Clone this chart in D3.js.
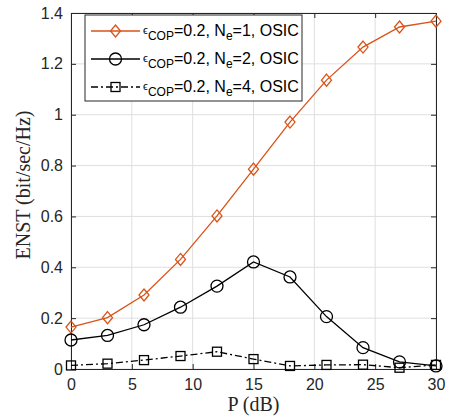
<!DOCTYPE html>
<html>
<head>
<meta charset="utf-8">
<script src="https://cdn.jsdelivr.net/npm/d3@7"></script>
<style>
  body { margin: 0; background: #fff; }
</style>
</head>
<body>
<div class="canvas"></div>
<script>
// values
const powerDb = [0, 3, 6, 9, 12, 15, 18, 21, 24, 27, 30];
const enstNe1 = [0.165, 0.202, 0.291, 0.431, 0.602, 0.786, 0.971, 1.136, 1.266, 1.345, 1.368];
const enstNe2 = [0.114, 0.132, 0.174, 0.243, 0.326, 0.421, 0.362, 0.206, 0.084, 0.028, 0.012];
const enstNe4 = [0.014, 0.021, 0.035, 0.051, 0.068, 0.039, 0.012, 0.016, 0.017, 0.005, 0.016];
const xTicks = [0, 5, 10, 15, 20, 25, 30];
const yTicks = [0, 0.2, 0.4, 0.6, 0.8, 1, 1.2, 1.4];
const legendNe = ['1', '2', '4'];

const margin = { top: 13, right: 21, bottom: 50, left: 71 };
const width = 457, height = 419;
const graphWidth = width - margin.left - margin.right;
const graphHeight = height - margin.top - margin.bottom;
const axisColor = '#262626';
const orange = '#D95319';

const svg = d3.select('.canvas')
  .append('svg')
  .attr('width', width)
  .attr('height', height);

const graph = svg.append('g')
  .attr('transform', `translate(${margin.left}, ${margin.top})`);

const x = d3.scaleLinear().domain([0, 30]).range([0, graphWidth]);
const y = d3.scaleLinear().domain([0, 1.4]).range([graphHeight, 0]);

// grid
graph.append('g').selectAll('line')
  .data(xTicks)
  .enter().append('line')
    .attr('x1', d => x(d)).attr('x2', d => x(d))
    .attr('y1', 0).attr('y2', graphHeight)
    .attr('stroke', '#dfdfdf').attr('stroke-width', 1);
graph.append('g').selectAll('line')
  .data(yTicks)
  .enter().append('line')
    .attr('x1', 0).attr('x2', graphWidth)
    .attr('y1', d => y(d)).attr('y2', d => y(d))
    .attr('stroke', '#dfdfdf').attr('stroke-width', 1);

// axes (ticks inward, box on)
const xAxis = d3.axisBottom(x).tickValues(xTicks).tickSize(-5).tickPadding(10).tickFormat(d3.format('d'));
const yAxis = d3.axisLeft(y).tickValues(yTicks).tickSize(-5).tickPadding(8).tickFormat(d => d3.format('~g')(d));
const xTop = d3.axisTop(x).tickValues(xTicks).tickSize(-5).tickFormat('');
const yRight = d3.axisRight(y).tickValues(yTicks).tickSize(-5).tickFormat('');

const xAxisGroup = graph.append('g').attr('transform', `translate(0,${graphHeight})`).call(xAxis);
const yAxisGroup = graph.append('g').call(yAxis);
const xTopGroup = graph.append('g').call(xTop);
const yRightGroup = graph.append('g').attr('transform', `translate(${graphWidth},0)`).call(yRight);

[xAxisGroup, yAxisGroup, xTopGroup, yRightGroup].forEach(g => {
  g.select('.domain').attr('stroke', axisColor).attr('stroke-width', 1);
  g.selectAll('.tick line').attr('stroke', axisColor);
  g.selectAll('text')
    .attr('fill', axisColor)
    .style('font-family', '"Liberation Sans", Arial, sans-serif')
    .style('font-size', '16px');
});

// axis labels
svg.append('text')
  .attr('x', margin.left + graphWidth / 2)
  .attr('y', height - 8)
  .attr('text-anchor', 'middle')
  .attr('fill', axisColor)
  .style('font-family', '"Liberation Serif", "DejaVu Serif", serif')
  .style('font-size', '20px')
  .text('P (dB)');

svg.append('text')
  .attr('transform', 'translate(30, 185) rotate(-90)')
  .attr('text-anchor', 'middle')
  .attr('fill', axisColor)
  .style('font-family', '"Liberation Serif", "DejaVu Serif", serif')
  .style('font-size', '20px')
  .text('ENST (bit/sec/Hz)');

// series
const series = [
  { values: enstNe1, color: orange, dash: null, marker: 'diamond' },
  { values: enstNe2, color: '#000', dash: null, marker: 'circle' },
  { values: enstNe4, color: '#000', dash: '7,3,2,3', marker: 'square' }
];

const line = d3.line()
  .x(d => x(d[0]))
  .y(d => y(d[1]));

function drawMarker(g, type, cx, cy, color) {
  if (type === 'circle') {
    g.append('circle')
      .attr('cx', cx).attr('cy', cy).attr('r', 6)
      .attr('fill', 'none').attr('stroke', color).attr('stroke-width', 1.3);
  } else if (type === 'square') {
    g.append('rect')
      .attr('x', cx - 4.5).attr('y', cy - 4.5).attr('width', 9).attr('height', 9)
      .attr('fill', 'none').attr('stroke', color).attr('stroke-width', 1.3);
  } else {
    g.append('path')
      .attr('d', `M${cx},${cy - 6} L${cx + 5},${cy} L${cx},${cy + 6} L${cx - 5},${cy} Z`)
      .attr('fill', 'none').attr('stroke', color).attr('stroke-width', 1.3);
  }
}

series.forEach(s => {
  const pts = powerDb.map((p, i) => [p, s.values[i]]);
  graph.append('path')
    .datum(pts)
    .attr('fill', 'none')
    .attr('stroke', s.color)
    .attr('stroke-width', 1.3)
    .attr('stroke-dasharray', s.dash)
    .attr('d', line);
  const mg = graph.append('g');
  pts.forEach(d => drawMarker(mg, s.marker, x(d[0]), y(d[1]), s.color));
});

// legend
const legend = svg.append('g').attr('transform', 'translate(85,15)');
legend.append('rect')
  .attr('width', 217).attr('height', 86)
  .attr('fill', '#fff').attr('stroke', axisColor).attr('stroke-width', 1);

series.forEach((s, i) => {
  const ly = 16 + i * 28;
  legend.append('line')
    .attr('x1', 6).attr('x2', 55).attr('y1', ly).attr('y2', ly)
    .attr('stroke', s.color).attr('stroke-width', 1.3)
    .attr('stroke-dasharray', s.dash);
  drawMarker(legend, s.marker, 30.5, ly, s.color);
  const t = legend.append('text')
    .attr('x', 58).attr('y', ly + 5)
    .attr('fill', '#000')
    .style('font-family', '"Liberation Sans", Arial, sans-serif')
    .style('font-size', '16px');
  t.append('tspan').style('font-size', '11px').attr('dy', -2).text('\u03f5');
  t.append('tspan').style('font-size', '12px').attr('dy', 6).text('COP');
  t.append('tspan').attr('dy', -4).text('=0.2, N');
  t.append('tspan').style('font-size', '12px').attr('dy', 4).text('e');
  t.append('tspan').attr('dy', -4).text(`=${legendNe[i]}, OSIC`);
});
</script>
</body>
</html>
